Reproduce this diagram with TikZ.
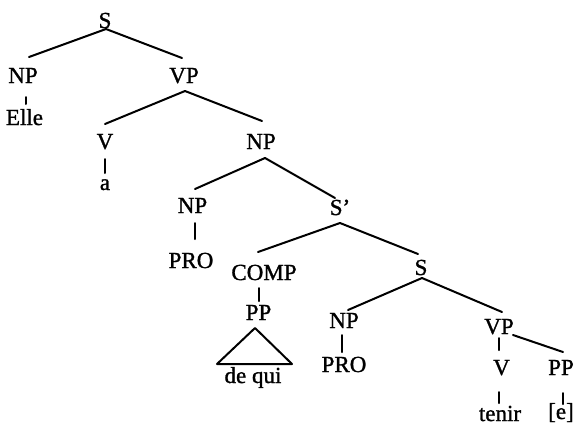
\documentclass[tikz,border=0pt]{standalone}
\usepackage{fontspec}
\setmainfont{Liberation Serif}
\newfontfamily\treefont[FakeBold=1.2]{Liberation Serif}
\usetikzlibrary{calc}
\newcommand\tedge[4]{\draw[branch] ($(#1.base)+#2$) -- ($(#3.base)+#4$);}
\begin{document}
\begin{tikzpicture}[x=1pt,y=-1pt,
  lab/.style={anchor=base,inner sep=0pt,font=\treefont\fontsize{23}{25}\selectfont},
  branch/.style={line width=2pt,line cap=round}]
\fill[white] (0,0) rectangle (577,429);
\useasboundingbox (0,0) rectangle (577,429);
% nodes
\node[lab] (S0) at (105,28) {S};
\node[lab] (NP1) at (23,83) {NP};
\node[lab] (VP1) at (184,83) {VP};
\node[lab] (Elle) at (24.5,125) {Elle};
\node[lab] (V1) at (105,149) {V};
\node[lab] (a) at (105,190) {a};
\node[lab] (NP2) at (261,149) {NP};
\node[lab] (NP3) at (192.5,213) {NP};
\node[lab] (PRO3) at (191,268) {PRO};
\node[lab] (Sbar) at (340,215) {S’};
\node[lab] (COMP) at (264,280) {COMP};
\node[lab] (PP1) at (258.5,320) {PP};
\node[lab] (dequi) at (253,383) {de qui};
\node[lab] (S2) at (421,275) {S};
\node[lab] (NP4) at (344,328) {NP};
\node[lab] (PRO4) at (344,372) {PRO};
\node[lab] (VP2) at (499,334) {VP};
\node[lab] (V2) at (501.5,375) {V};
\node[lab] (PP2) at (561,375) {PP};
\node[lab] (tenir) at (500,421) {tenir};
\node[lab] (e) at (561,419) {[e]};
% branches
\tedge{S0}{(1,1)}{NP1}{(6,-26)}
\tedge{S0}{(1,1)}{VP1}{(-2,-25)}
\tedge{NP1}{(3,14)}{Elle}{(1.5,-21)}
\tedge{VP1}{(1,8)}{V1}{(0,-25)}
\tedge{VP1}{(1,8)}{NP2}{(1,-28)}
\tedge{V1}{(0,10)}{a}{(0,-17)}
\tedge{NP2}{(4,9)}{NP3}{(2.5,-24)}
\tedge{NP2}{(4,9)}{Sbar}{(-5,-17)}
\tedge{NP3}{(2.5,10)}{PRO3}{(4,-29)}
\tedge{Sbar}{(0,8)}{COMP}{(-6,-28)}
\tedge{Sbar}{(0,8)}{S2}{(-3,-21)}
\tedge{COMP}{(-5,8)}{PP1}{(0.5,-19)}
\draw[branch,line join=round] ($(PP1.base)+(-3.5,8)$) -- ($(PP1.base)+(-41.5,44)$) -- ($(PP1.base)+(33.5,44)$) -- cycle;
\tedge{S2}{(1,3)}{NP4}{(4,-18)}
\tedge{S2}{(1,3)}{VP2}{(3,-22)}
\tedge{NP4}{(-2,7)}{PRO4}{(-2,-20)}
\tedge{VP2}{(0,4)}{V2}{(-2.5,-25)}
\tedge{VP2}{(14,1)}{PP2}{(2,-23)}
\tedge{V2}{(-2.5,17)}{tenir}{(-1,-18)}
\tedge{PP2}{(2,18)}{e}{(2,-15)}
\end{tikzpicture}
\end{document}
